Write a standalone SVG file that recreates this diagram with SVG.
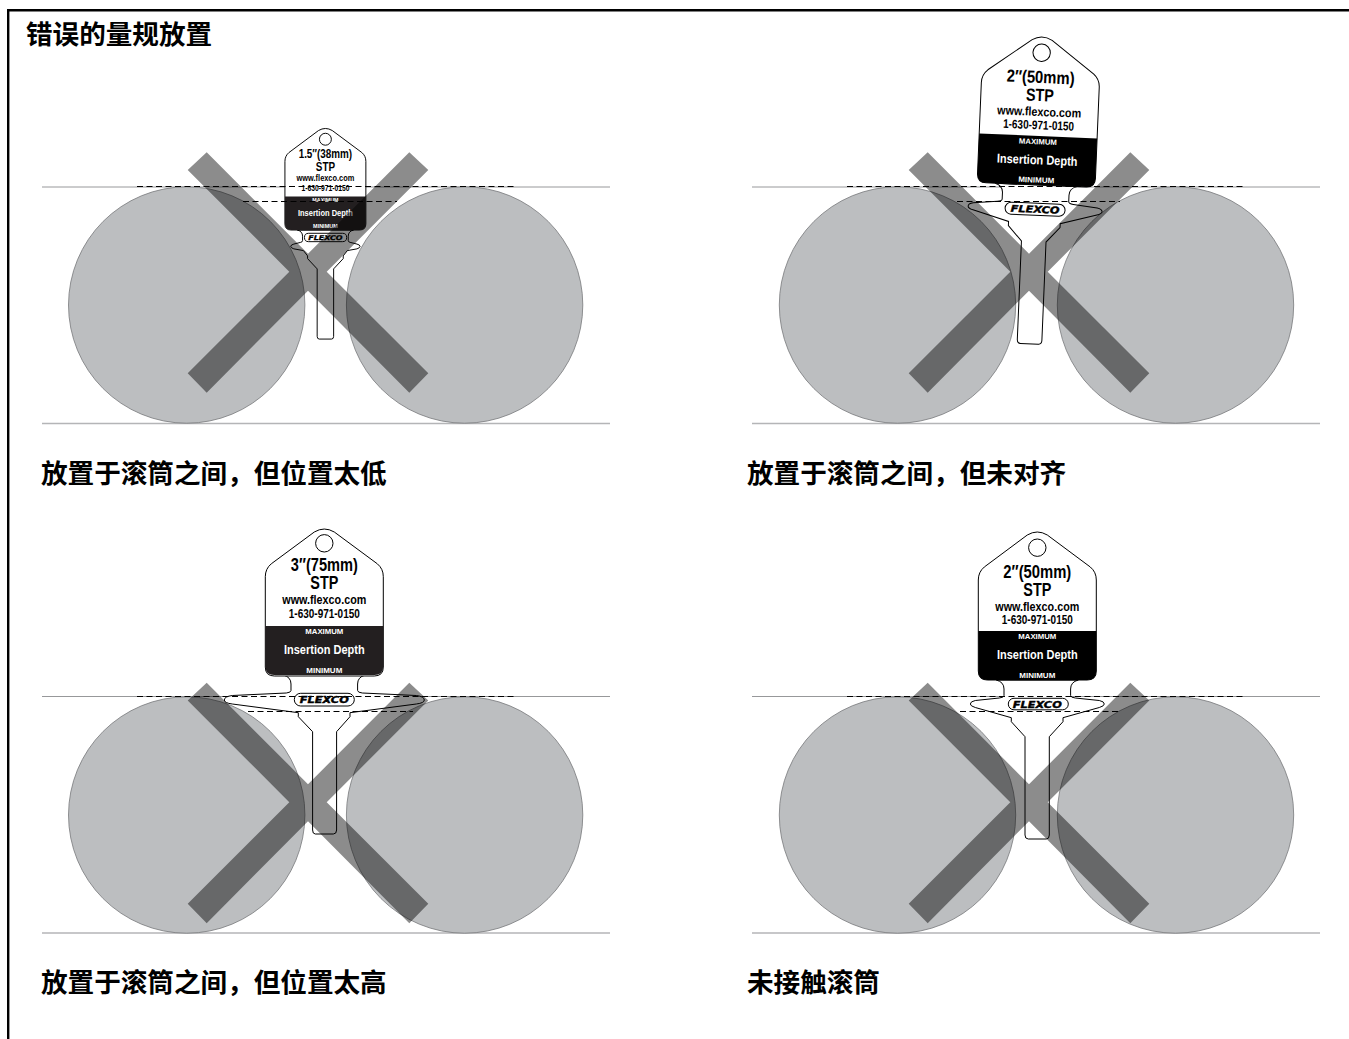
<svg xmlns="http://www.w3.org/2000/svg" width="1349" height="1039" viewBox="0 0 1349 1039">
<style>
.cn{font-family:"Noto Sans CJK SC","Liberation Sans",sans-serif;font-weight:700;font-size:26.6px;fill:#000}
.c{fill:#bcbec0;stroke:#77787b;stroke-width:.8}
.top{stroke:#97989a;stroke-width:1;fill:none}
.bot{stroke:#b4b5b7;stroke-width:1.5;fill:none}
.x{fill:#000;fill-opacity:.45}
.d{stroke:#000;stroke-width:1;stroke-dasharray:6 3.5;fill:none}
.k{fill:#fff;stroke:#000;stroke-width:1}
.k1{stroke-width:1.4}
.t{font-family:"Liberation Sans",Arial,sans-serif;font-weight:700;text-anchor:middle;fill:#000}
.w{fill:#fff}
.a{font-size:17.5px}.b{font-size:12.5px}.m{font-size:7.6px}.i{font-size:12.8px}
.f{font-family:"DejaVu Sans",sans-serif;font-weight:700;font-style:italic;font-size:9.5px;text-anchor:middle;fill:#000;stroke:#000;stroke-width:.4}
</style>
<defs>
<path id="h" d="M-59,-100Q-59,-108 -53,-113L-10,-145Q0,-151 10,-145L53,-113Q59,-108 59,-100L59,-9Q59,0 50,0L-50,0Q-59,0 -59,-9Z"/>
<path id="bd" d="M-59,-49H59V-9Q59,0 50,0H-50Q-59,0 -59,-9Z"/>
<polygon id="xm" points="206.7,152.3 308,253.7 409.3,152.3 428.3,170 326.7,271.7 428.3,373.3 409.3,392.7 308,290.7 206.7,392.7 187.7,373.3 289.3,271.7 187.7,170"/>
</defs>
<path id="frame" d="M1349,10.3H8.2V1039" fill="none" stroke="#000" stroke-width="2.4"/>
<text class="cn" x="26" y="44">错误的量规放置</text>

<g id="panel-1">
<path class="top" d="M42,187H610"/><path class="bot" d="M42,423.5H610"/>
<circle class="c" cx="186.7" cy="305" r="118.2"/><circle class="c" cx="464.6" cy="305" r="118.2"/>
<g id="key-1" transform="translate(325.4,230) scale(.686)">
<path class="k k1" d="M-41,0Q-33.3,2 -33.3,9V15.5Q-33.3,17.5 -36,18L-46,20.5Q-50.5,21.5 -50.5,24Q-50.5,26 -46,27.5L-32,30L-26,37.7V41.7L-12,56.7V155Q-12,159 -9,159H9Q12,159 12,155V56.7L26,41.7V37.7L32,30L46,27.5Q50.5,26 50.5,24Q50.5,21.5 46,20.5L36,18Q33.3,17.5 33.3,15.5V9Q33.3,2 41,0Z"/>
<use href="#h" class="k k1"/><use href="#bd" fill="#231f20"/><circle class="k k1" cx="0" cy="-132.3" r="8.7"/>
<text class="t a" y="-104.5" textLength="78" lengthAdjust="spacingAndGlyphs">1.5″(38mm)</text>
<text class="t a" y="-86.5" textLength="28" lengthAdjust="spacingAndGlyphs">STP</text>
<text class="t b" y="-71.4" textLength="84" lengthAdjust="spacingAndGlyphs">www.flexco.com</text>
<text class="t b" y="-57" textLength="70" lengthAdjust="spacingAndGlyphs">1-630-971-0150</text>
<text class="t m w" y="-40.7" textLength="38" lengthAdjust="spacingAndGlyphs">MAXIMUM</text>
<text class="t i w" y="-20.7" textLength="80" lengthAdjust="spacingAndGlyphs">Insertion Depth</text>
<text class="t m w" y="-2.3" textLength="36" lengthAdjust="spacingAndGlyphs">MINIMUM</text>
<rect class="k k1" x="-30.5" y="4.8" width="61.5" height="12.2" rx="6"/>
<text class="f" y="14.4" textLength="50" lengthAdjust="spacingAndGlyphs">FLEXCO</text>
</g>
<use href="#xm" class="x"/>
<path class="d" d="M137,186.5H517M243,201.5H397"/>
</g>

<g id="panel-2">
<path class="top" d="M752,187H1320"/><path class="bot" d="M752,423.5H1320"/>
<circle class="c" cx="897.5" cy="305" r="118.2"/><circle class="c" cx="1175.5" cy="305" r="118.2"/>
<g id="key-2" transform="translate(1036.1,184.9) rotate(2.4)">
<path class="k" d="M-41,0Q-33.3,2 -33.3,9V15.5Q-33.3,17.5 -38,18L-62,20.5Q-67,21.5 -67,24Q-67,26 -62,27.5L-26,37.7V41.7L-12.3,56.7V155Q-12.3,159 -9,159H9Q12.3,159 12.3,155V56.7L25.7,41.7V37.7L62,27.5Q67,26 67,24Q67,21.5 62,20.5L38,18Q33.3,17.5 33.3,15.5V9Q33.3,2 41,0Z"/>
<use href="#h" class="k"/><use href="#bd" fill="#000"/><circle class="k" cx="0" cy="-132.3" r="8.7"/>
<text class="t a" y="-102" textLength="68" lengthAdjust="spacingAndGlyphs">2″(50mm)</text>
<text class="t a" y="-84" textLength="28" lengthAdjust="spacingAndGlyphs">STP</text>
<text class="t b" y="-69" textLength="84" lengthAdjust="spacingAndGlyphs">www.flexco.com</text>
<text class="t b" y="-55.7" textLength="71" lengthAdjust="spacingAndGlyphs">1-630-971-0150</text>
<text class="t m w" y="-40.7" textLength="38" lengthAdjust="spacingAndGlyphs">MAXIMUM</text>
<text class="t i w" y="-20.7" textLength="80.7" lengthAdjust="spacingAndGlyphs">Insertion Depth</text>
<text class="t m w" y="-2.3" textLength="36" lengthAdjust="spacingAndGlyphs">MINIMUM</text>
<rect class="k" x="-30" y="18.3" width="60" height="12" rx="6"/>
<text class="f" y="27.8" textLength="49" lengthAdjust="spacingAndGlyphs">FLEXCO</text>
</g>
<use href="#xm" class="x" transform="translate(721,0)"/>
<path class="d" d="M847,186.5H1243M957,201.5H1120"/>
</g>

<g id="panel-3">
<path class="top" d="M42,696.5H610"/><path class="bot" d="M42,933H610"/>
<circle class="c" cx="186.7" cy="815" r="118.2"/><circle class="c" cx="464.6" cy="815" r="118.2"/>
<g id="key-3" transform="translate(324.3,675)">
<path class="k" d="M-41,0Q-33.3,2 -33.3,9V15.5Q-33.3,17.5 -38,18L-92,20.5Q-100,21.5 -100,25Q-100,28 -92,29L-26,37.7V41.7L-11.7,56.7V155Q-11.7,159 -9,159H9Q12.3,159 12.3,155V56.7L25.7,41.7V37.7L92,29Q100,28 100,25Q100,21.5 92,20.5L38,18Q33.3,17.5 33.3,15.5V9Q33.3,2 41,0Z"/>
<use href="#h" class="k" transform="translate(0,1) scale(1,.993)"/><use href="#bd" fill="#231f20"/><circle class="k" cx="0" cy="-131.7" r="8.7"/>
<text class="t a" y="-104" textLength="67" lengthAdjust="spacingAndGlyphs">3″(75mm)</text>
<text class="t a" y="-85.7" textLength="28" lengthAdjust="spacingAndGlyphs">STP</text>
<text class="t b" y="-70.7" textLength="84" lengthAdjust="spacingAndGlyphs">www.flexco.com</text>
<text class="t b" y="-56.7" textLength="71" lengthAdjust="spacingAndGlyphs">1-630-971-0150</text>
<text class="t m w" y="-40.7" textLength="38" lengthAdjust="spacingAndGlyphs">MAXIMUM</text>
<text class="t i w" y="-20.7" textLength="80.7" lengthAdjust="spacingAndGlyphs">Insertion Depth</text>
<text class="t m w" y="-2.3" textLength="36" lengthAdjust="spacingAndGlyphs">MINIMUM</text>
<rect class="k" x="-30" y="18.3" width="60" height="12.7" rx="6.3"/>
<text class="f" y="28.3" textLength="49" lengthAdjust="spacingAndGlyphs">FLEXCO</text>
</g>
<use href="#xm" class="x" transform="translate(0,530.5)"/>
<path class="d" d="M137,696.5H517M248,711.5H413"/>
</g>

<g id="panel-4">
<path class="top" d="M752,696.5H1320"/><path class="bot" d="M752,933H1320"/>
<circle class="c" cx="897.5" cy="815" r="118.2"/><circle class="c" cx="1175.5" cy="815" r="118.2"/>
<g id="key-4" transform="translate(1037.3,680)">
<path class="k" d="M-41,0Q-33.3,2 -33.3,9V15.5Q-33.3,17.5 -38,18L-62,20.5Q-67,21.5 -67,24Q-67,26 -62,27.5L-26,37.7V41.7L-12.3,56.7V155Q-12.3,159 -9,159H9Q12,159 12,155V56.7L25.7,41.7V37.7L62,27.5Q67,26 67,24Q67,21.5 62,20.5L38,18Q33.3,17.5 33.3,15.5V9Q33.3,2 41,0Z"/>
<use href="#h" class="k"/><use href="#bd" fill="#000"/><circle class="k" cx="0" cy="-132.3" r="8.7"/>
<text class="t a" y="-102" textLength="68" lengthAdjust="spacingAndGlyphs">2″(50mm)</text>
<text class="t a" y="-84" textLength="28" lengthAdjust="spacingAndGlyphs">STP</text>
<text class="t b" y="-69" textLength="84" lengthAdjust="spacingAndGlyphs">www.flexco.com</text>
<text class="t b" y="-55.7" textLength="71" lengthAdjust="spacingAndGlyphs">1-630-971-0150</text>
<text class="t m w" y="-40.7" textLength="38" lengthAdjust="spacingAndGlyphs">MAXIMUM</text>
<text class="t i w" y="-20.7" textLength="80.7" lengthAdjust="spacingAndGlyphs">Insertion Depth</text>
<text class="t m w" y="-2.3" textLength="36" lengthAdjust="spacingAndGlyphs">MINIMUM</text>
<rect class="k" x="-29" y="18.3" width="60" height="11.5" rx="5.7"/>
<text class="f" y="27.5" textLength="49" lengthAdjust="spacingAndGlyphs">FLEXCO</text>
</g>
<use href="#xm" class="x" transform="translate(721,530.5)"/>
<path class="d" d="M847,696.5H1243M960,711.5H1120"/>
</g>

<text class="cn" x="41" y="483">放置于滚筒之间，但位置太低</text>
<text class="cn" x="747" y="483">放置于滚筒之间，但未对齐</text>
<text class="cn" x="41" y="992">放置于滚筒之间，但位置太高</text>
<text class="cn" x="747" y="992">未接触滚筒</text>
</svg>
